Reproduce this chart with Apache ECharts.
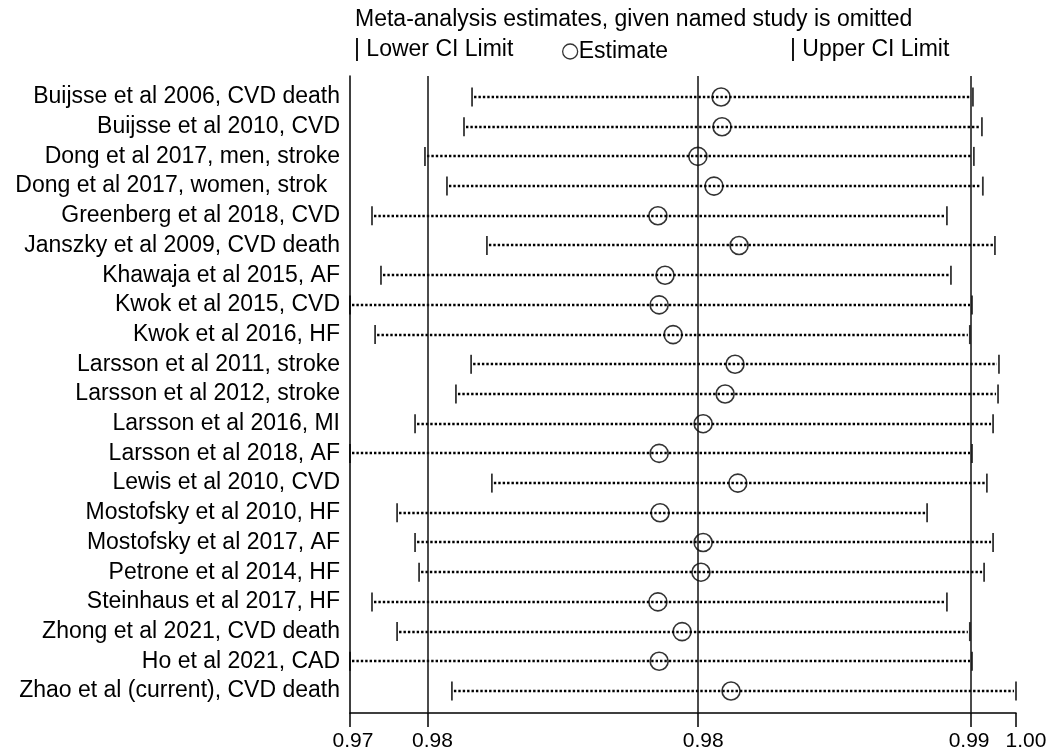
<!DOCTYPE html>
<html>
<head>
<meta charset="utf-8">
<script src="https://cdn.jsdelivr.net/npm/echarts@6/dist/echarts.min.js"></script>
<style>
html,body{margin:0;padding:0;background:#fff;}
#chart{width:1055px;height:756px;}
</style>
</head>
<body>
<div id="chart"></div>
<script>
// ---- data ----
const studies = [
  "Buijsse et al 2006, CVD death",
  "Buijsse et al 2010, CVD",
  "Dong et al 2017, men, stroke",
  "Dong et al 2017, women, strok  ",
  "Greenberg et al 2018, CVD",
  "Janszky et al 2009, CVD death",
  "Khawaja et al 2015, AF",
  "Kwok et al 2015, CVD",
  "Kwok et al 2016, HF",
  "Larsson et al 2011, stroke",
  "Larsson et al 2012, stroke",
  "Larsson et al 2016, MI",
  "Larsson et al 2018, AF",
  "Lewis et al 2010, CVD",
  "Mostofsky et al 2010, HF",
  "Mostofsky et al 2017, AF",
  "Petrone et al 2014, HF",
  "Steinhaus et al 2017, HF",
  "Zhong et al 2021, CVD death",
  "Ho et al 2021, CAD",
  "Zhao et al (current), CVD death"
];
const lowerCI = [0.97744, 0.97718, 0.97592, 0.97663, 0.97421, 0.97792, 0.97450, 0.97350, 0.97431, 0.97741, 0.97692,
                 0.97560, 0.97350, 0.97808, 0.97502, 0.97560, 0.97573, 0.97421, 0.97502, 0.97350, 0.97679];
const estimate = [0.98548, 0.98551, 0.98473, 0.98525, 0.98344, 0.98606, 0.98367, 0.98348, 0.98393, 0.98593, 0.98561,
                  0.98490, 0.98348, 0.98602, 0.98351, 0.98490, 0.98483, 0.98344, 0.98422, 0.98348, 0.98580];
const upperCI = [0.99361, 0.99390, 0.99364, 0.99393, 0.99277, 0.99432, 0.99290, 0.99358, 0.99351, 0.99445, 0.99442,
                 0.99426, 0.99358, 0.99406, 0.99213, 0.99426, 0.99397, 0.99277, 0.99351, 0.99358, 0.99500];
// x ticks: min, overall lower CI, overall estimate, overall upper CI, max
const tickValues = [0.9735, 0.9760, 0.98474, 0.99355, 0.9950];
const tickLabels = ["0.97", "0.98", "0.98", "0.99", "1.00"];
const refLines = [tickValues[1], tickValues[2], tickValues[3]];
const rowIndex = studies.map((s, i) => i + 1);

const FONT = '"Liberation Sans", Arial, Helvetica, sans-serif';
const chart = echarts.init(document.getElementById('chart'), null, {renderer: 'canvas'});

const ciData = studies.map((s, i) => [lowerCI[i], upperCI[i], rowIndex[i]]);

// small horizontal nudges of tick labels (as in the reference layout)
const labelNudge = [3, 5, 5, -2, 10];
const tickRich = {};
labelNudge.forEach((d, i) => {
  tickRich['t' + i] = {
    fontFamily: FONT, fontSize: 21, color: '#000',
    padding: d >= 0 ? [0, 0, 0, 2 * d] : [0, -2 * d, 0, 0]
  };
});

const option = {
  animation: false,
  backgroundColor: '#fff',
  title: {
    text: 'Meta-analysis estimates, given named study is omitted',
    left: 355, top: 8, padding: 0,
    textStyle: {fontFamily: FONT, fontSize: 23, fontWeight: 'normal', color: '#000'}
  },
  legend: [
    {
      data: [{name: 'Lower CI Limit', icon: 'none'}],
      left: 344, top: 33, itemWidth: 0, itemHeight: 18, selectedMode: false,
      formatter: n => '| ' + n,
      textStyle: {fontFamily: FONT, fontSize: 23, color: '#000'}
    },
    {
      data: [{name: 'Estimate', icon: 'circle', itemStyle: {color: 'rgba(0,0,0,0)', borderColor: '#000', borderWidth: 1.3}}],
      left: 557, top: 35, itemWidth: 15, itemHeight: 15, selectedMode: false,
      textStyle: {fontFamily: FONT, fontSize: 23, color: '#000', padding: [0, 0, 0, -4]}
    },
    {
      data: [{name: 'Upper CI Limit', icon: 'none'}],
      left: 780, top: 33, itemWidth: 0, itemHeight: 18, selectedMode: false,
      formatter: n => '| ' + n,
      textStyle: {fontFamily: FONT, fontSize: 23, color: '#000'}
    }
  ],
  grid: {left: 350, right: 39, top: 76, bottom: 43, containLabel: false},
  xAxis: {
    type: 'value',
    min: tickValues[0],
    max: tickValues[4],
    axisLine: {show: true, lineStyle: {color: '#000', width: 1.5}},
    axisTick: {show: true, customValues: tickValues, length: 14, lineStyle: {color: '#000', width: 1.5}},
    axisLabel: {
      show: true, customValues: tickValues, margin: 18,
      fontFamily: FONT, fontSize: 21, color: '#000',
      formatter: v => {
        let best = 0;
        tickValues.forEach((t, i) => { if (Math.abs(t - v) < Math.abs(tickValues[best] - v)) best = i; });
        return '{t' + best + '|' + tickLabels[best] + '}';
      },
      rich: tickRich
    },
    splitLine: {show: false}
  },
  yAxis: {
    type: 'value',
    inverse: true,
    min: 0.293,
    max: 21.741,
    axisLine: {show: true, lineStyle: {color: '#000', width: 1.5}},
    axisTick: {show: false},
    splitLine: {show: false},
    axisLabel: {
      show: true, customValues: rowIndex, margin: 10,
      fontFamily: FONT, fontSize: 23, color: '#000',
      formatter: v => studies[Math.round(v) - 1] || ''
    }
  },
  series: [
    {
      name: 'CI',
      type: 'custom',
      data: ciData,
      encode: {x: [0, 1], y: 2},
      renderItem: function (params, api) {
        const p1 = api.coord([api.value(0), api.value(2)]);
        const p2 = api.coord([api.value(1), api.value(2)]);
        const cs = params.coordSys;
        const x1 = Math.max(p1[0], cs.x) + 2;
        const x2 = Math.min(p2[0], cs.x + cs.width) - 2;
        const y = Math.round(p1[1]);
        return {
          type: 'line',
          shape: {x1: x1, y1: y, x2: x2, y2: y},
          style: {stroke: '#000', lineWidth: 2.5, lineDash: [2.4, 2.0]}
        };
      },
      z: 2
    },
    {
      name: 'Lower CI Limit',
      type: 'scatter',
      data: lowerCI.map((v, i) => [v, rowIndex[i]]),
      symbol: 'rect',
      symbolSize: [1.8, 19],
      itemStyle: {color: '#000'},
      z: 3
    },
    {
      name: 'Estimate',
      type: 'scatter',
      data: estimate.map((v, i) => [v, rowIndex[i]]),
      symbol: 'circle',
      symbolSize: 18,
      itemStyle: {color: 'rgba(0,0,0,0)', borderColor: '#000', borderWidth: 1.6},
      markLine: {
        silent: true,
        symbol: 'none',
        precision: 6,
        label: {show: false},
        lineStyle: {color: '#111', width: 1.5, type: 'solid'},
        data: refLines.map(v => ({xAxis: v}))
      },
      z: 4
    },
    {
      name: 'Upper CI Limit',
      type: 'scatter',
      data: upperCI.map((v, i) => [v, rowIndex[i]]),
      symbol: 'rect',
      symbolSize: [1.8, 19],
      itemStyle: {color: '#000'},
      z: 3
    }
  ]
};
chart.setOption(option);
</script>
</body>
</html>
